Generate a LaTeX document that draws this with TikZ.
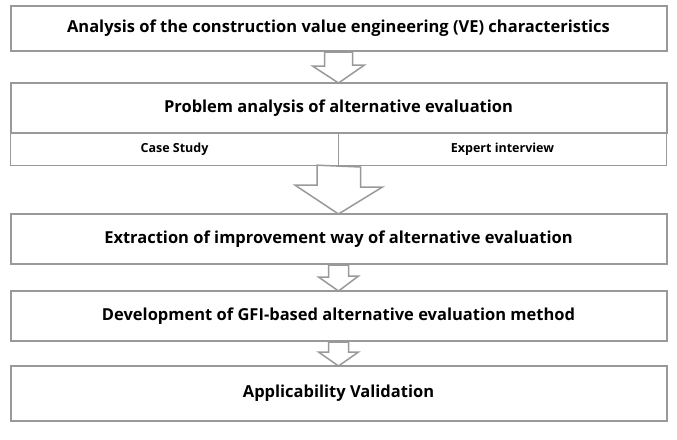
\documentclass[tikz,border=0pt]{standalone}
\usepackage{fontspec}
\setmainfont{Open Sans}
\begin{document}
\begin{tikzpicture}[x=1pt,y=-1pt,
  box/.style={draw=gray!80,line width=2pt,minimum width=656pt,anchor=north,inner sep=0pt,font=\bfseries\fontsize{16.5}{18}\selectfont},
  sub/.style={draw=gray!80,line width=1.2pt,minimum width=328pt,minimum height=33pt,anchor=north,inner sep=0pt,font=\bfseries\fontsize{12.5}{14}\selectfont},
  harrow/.style={draw=gray!80,line width=1.5pt,fill=white,line join=miter}]
\useasboundingbox (0,0) rectangle (677,439);
\node[box,minimum height=45pt] (b1) at (338.5,5) {Analysis of the construction value engineering (VE) characteristics};
\node[box,minimum height=50pt] (b2) at (338.5,82) {Problem analysis of alternative evaluation};
\node[sub] (s1) at (174.5,132) {Case Study};
\node[sub] (s2) at (502.5,132) {Expert interview};
\node[box,minimum height=50pt] (b3) at (338.5,213) {Extraction of improvement way of alternative evaluation};
\node[box,minimum height=50pt] (b4) at (338.5,290) {Development of GFI-based alternative evaluation method};
\node[box,minimum height=55pt] (b5) at (338.5,365) {Applicability Validation};
\draw[harrow] ([xshift=-14]b1.south) -- ++(0,14) -- ++(-12,0) -- ([yshift=-1]b2.north) -- ++(26,-18) -- ++(-12,0) -- ([xshift=14]b1.south) -- cycle;
\draw[harrow] ([xshift=-22,yshift=1]s1.south east) -- ++(0,20) -- ++(-22,0) -- ([yshift=-1]b3.north) -- ++(44,-27) -- ++(-22,0) -- ++(0,-20) -- cycle;
\draw[harrow] ([xshift=-10]b3.south) -- ++(0,12) -- ++(-10,0) -- ([yshift=-1]b4.north) -- ++(20,-15) -- ++(-10,0) -- ([xshift=10]b3.south) -- cycle;
\draw[harrow] ([xshift=-10]b4.south) -- ++(0,10) -- ++(-10,0) -- ([yshift=-1]b5.north) -- ++(20,-14) -- ++(-10,0) -- ([xshift=10]b4.south) -- cycle;
\end{tikzpicture}
\end{document}
